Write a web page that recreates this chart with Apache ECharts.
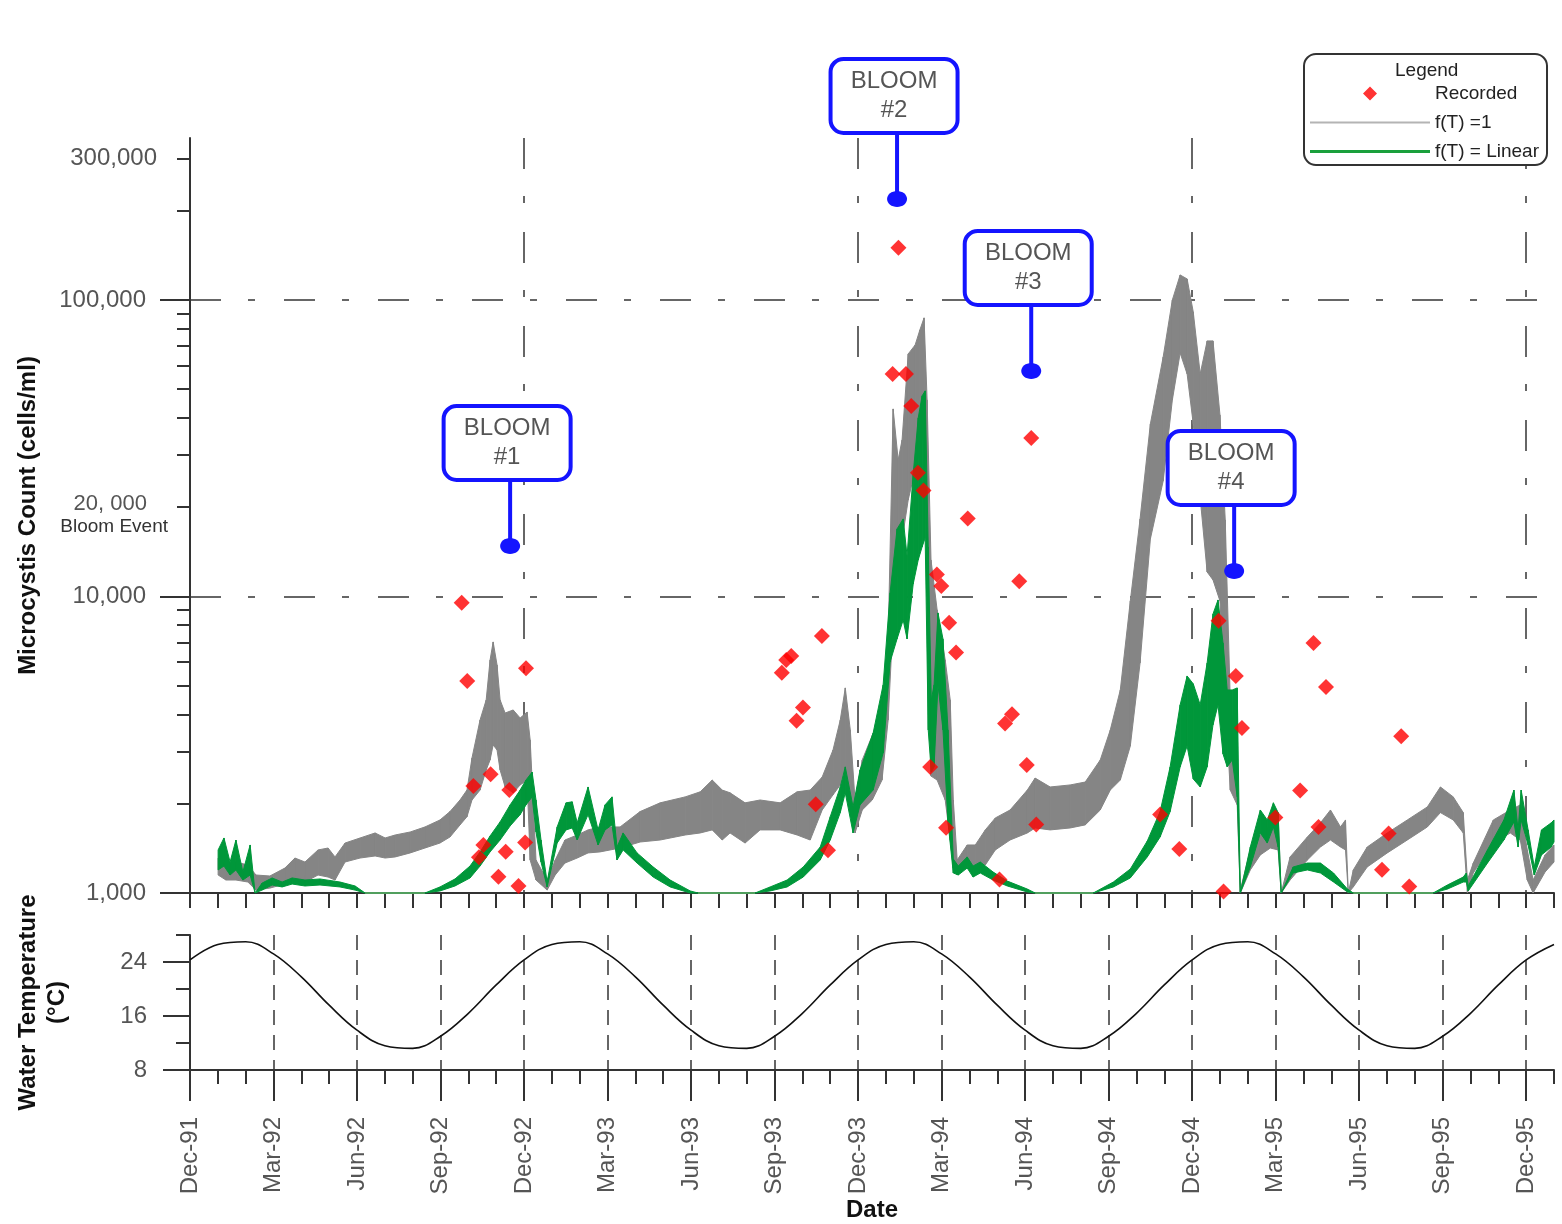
<!DOCTYPE html>
<html>
<head>
<meta charset="utf-8">
<title>Microcystis count and water temperature, Dec 1991 - Jan 1996</title>
<script src="https://cdn.jsdelivr.net/npm/echarts@6/dist/echarts.min.js"></script>
<style>
  html, body { margin: 0; padding: 0; background: #fff; }
  #chart { width: 1562px; height: 1224px; }
</style>
</head>
<body>
<div id="chart"></div>
<script>
// x values are months counted from 1 December 1991
const quarterLabels = ['Dec-91','Mar-92','Jun-92','Sep-92','Dec-92','Mar-93','Jun-93','Sep-93','Dec-93',
  'Mar-94','Jun-94','Sep-94','Dec-94','Mar-95','Jun-95','Sep-95','Dec-95'];

// count axis labels (cells/ml)
const countTicks = [1000, 10000, 100000];
const countTickLabels = ['1,000', '10,000', '100,000'];
const bloomThreshold = 20000;
const bloomThresholdLabel = '20, 000';
const bloomEventText = 'Bloom Event';
const topTick = 300000;
const topTickLabel = '300,000';

// temperature axis labels
const tempTicks = [8, 16, 24];

// recorded Microcystis counts
const recordedMonth = [9.76, 9.96, 10.18, 10.38, 10.54, 10.80, 11.08, 11.34, 11.47, 11.80, 12.04, 12.07,
  21.26, 21.42, 21.60, 21.79, 22.02, 22.48, 22.70, 22.92,
  25.24, 25.45, 25.72, 25.91, 26.15, 26.35, 26.59, 26.83, 26.99, 27.16, 27.27, 27.52, 27.94,
  29.08, 29.28, 29.53, 29.79, 30.06, 30.22, 30.40,
  34.85, 35.54, 36.95, 37.13, 37.57, 37.79, 38.99, 39.88, 40.36, 40.54, 40.81, 42.82, 43.06, 43.51, 43.80];
const recordedCount = [9530, 5190, 2296, 1319, 1452, 2513, 1135, 1378, 2223, 1056, 1479, 5730,
  5530, 6110, 6300, 3810, 4225, 1993, 7360, 1393,
  56240, 150000, 56240, 43900, 26150, 22780, 2661, 11860, 10850, 1660, 8160, 6470, 18320,
  1110, 3727, 4004, 11250, 2702, 34240, 1702,
  1841, 1407, 8280, 1012, 5395, 3602, 1797, 2216, 6970, 1670, 4955, 1199, 1587, 3375, 1052];

// simulated count, f(T) = 1 : low / high envelope of the daily trace
const fT1Month = [
  1.01, 1.29, 1.65, 2.08, 2.37, 2.87, 3.41, 3.77, 4.13, 4.60,
  4.96, 5.21, 5.57, 6.11, 6.65, 7.01, 7.37, 7.91, 8.44, 8.98,
  9.34, 9.70, 9.95, 10.13, 10.42, 10.64, 10.78, 10.89, 11.03, 11.14,
  11.32, 11.61, 11.86, 12.11, 12.22, 12.43, 12.83, 13.12, 13.47, 13.91,
  14.30, 14.73, 15.45, 16.17, 16.89, 17.79, 18.33, 18.76, 19.12, 19.40,
  19.94, 20.48, 21.20, 21.81, 22.28, 22.71, 23.10, 23.36, 23.54, 23.72,
  23.89, 24.15, 24.51, 24.86, 25.08, 25.26, 25.44, 25.58, 25.80, 26.05,
  26.22, 26.37, 26.48, 26.62, 26.84, 27.13, 27.31, 27.42, 27.56, 27.92,
  28.21, 28.57, 28.93, 29.46, 30.08, 30.36, 30.90, 31.62, 32.16, 32.70,
  33.06, 33.42, 33.78, 34.13, 34.50, 34.96, 35.29, 35.57, 35.82, 36.04,
  36.29, 36.54, 36.75, 37.00, 37.19, 37.37, 37.62, 37.73, 38.09, 38.45,
  38.81, 39.09, 39.20, 39.52, 40.14, 40.61, 40.97, 41.33, 41.51, 41.61,
  41.79, 42.29, 43.01, 43.73, 44.45, 44.92, 45.38, 45.74, 45.89, 46.10,
  46.82, 47.43, 47.79, 48.04, 48.25, 48.68, 49.00];
const fT1High = [
  1312, 1243, 1272, 1243, 1150, 1141, 1214, 1312, 1272, 1397,
  1418, 1323, 1474, 1533, 1594, 1533, 1569, 1606, 1670, 1763,
  1882, 2059, 2224, 2854, 3832, 4477, 6107, 7024, 5875, 4477,
  4045, 4142, 3892, 4076, 3281, 1292, 1106, 1292, 1509, 1569,
  1632, 1670, 1670, 1882, 2014, 2109, 2194, 2404, 2224, 2177,
  2014, 2059, 2014, 2194, 2224, 2460, 3036, 3832, 4915, 3546,
  2059, 2810, 3400, 3990, 7133, 42890, 28860, 33710, 65740, 70470,
  79220, 86980, 45990, 13276, 9006, 6107, 4477, 2059, 1292, 1452,
  1452, 1632, 1791, 1905, 2224, 2441, 2278, 2314, 2367, 2810,
  3546, 4838, 9656, 18256, 38180, 64230, 100000, 121400, 117700, 91100,
  56290, 72730, 72730, 40940, 18113, 4477, 2810, 1023, 1397, 1569,
  1697, 1838, 1000, 1323, 1545, 1724, 1905, 1670, 1763, 1000,
  1196, 1429, 1594, 1763, 1951, 2278, 2109, 1867, 1106, 1262,
  1763, 1905, 1982, 1397, 1106, 1344, 1452];
const fT1Low = [
  1150, 1106, 1106, 1089, 1023, 1039, 1072, 1106, 1089, 1150,
  1132, 1106, 1272, 1312, 1333, 1312, 1323, 1365, 1418, 1474,
  1545, 1697, 1808, 2059, 2224, 2600, 2810, 3157, 3036, 2600,
  2278, 2177, 2314, 2404, 1292, 1106, 1023, 1150, 1262, 1312,
  1365, 1376, 1418, 1486, 1509, 1569, 1594, 1632, 1509, 1594,
  1474, 1632, 1632, 1569, 1509, 1905, 2143, 2314, 2662, 2059,
  1594, 1905, 2059, 2404, 3832, 8331, 13276, 15508, 21156, 26710,
  31190, 36440, 13276, 2479, 2404, 2059, 1509, 1214, 1150, 1243,
  1196, 1243, 1397, 1509, 1594, 1657, 1632, 1657, 1697, 1905,
  2224, 2404, 3132, 5967, 15630, 24524, 45990, 66240, 56290, 38180,
  21489, 12090, 11367, 9656, 4477, 2224, 1982, 1000, 1196, 1344,
  1418, 1397, 1000, 1106, 1292, 1429, 1509, 1429, 1397, 1000,
  1048, 1224, 1365, 1509, 1670, 1867, 1763, 1594, 1000, 1168,
  1474, 1594, 1509, 1106, 1000, 1177, 1272];

// simulated count, f(T) = Linear : low / high envelope of the daily trace
const fTLinMonth = [
  1.01, 1.22, 1.44, 1.65, 1.90, 2.16, 2.34, 2.59, 2.95, 3.31,
  3.67, 4.13, 4.67, 5.39, 5.93, 6.29, 8.44, 8.98, 9.52, 10.06,
  10.42, 10.78, 11.14, 11.50, 11.86, 12.07, 12.29, 12.43, 12.61, 12.83,
  13.19, 13.51, 13.73, 13.91, 14.30, 14.66, 14.91, 15.16, 15.34, 15.56,
  16.06, 16.64, 17.25, 17.97, 18.25, 20.30, 20.84, 21.45, 22.03, 22.64,
  23.00, 23.36, 23.54, 23.82, 24.07, 24.54, 24.90, 25.15, 25.40, 25.62,
  25.76, 25.98, 26.16, 26.30, 26.41, 26.52, 26.63, 26.73, 26.87, 27.05,
  27.23, 27.42, 27.60, 27.92, 28.13, 28.39, 28.85, 29.36, 30.08, 30.36,
  32.45, 33.17, 33.78, 34.39, 34.85, 35.21, 35.57, 35.82, 36.04, 36.29,
  36.54, 36.75, 36.93, 37.11, 37.26, 37.44, 37.62, 37.73, 38.09, 38.45,
  38.70, 38.92, 39.09, 39.20, 39.63, 40.14, 40.61, 41.08, 41.58, 41.79,
  44.66, 45.17, 45.74, 45.85, 45.92, 46.61, 47.20, 47.56, 47.71, 47.82,
  48.07, 48.29, 48.55, 48.90, 49.00];
const fTLinHigh = [
  1397, 1533, 1272, 1509, 1177, 1452, 1000, 1080, 1124, 1089,
  1124, 1106, 1115, 1089, 1056, 1000, 1000, 1048, 1115, 1233,
  1376, 1557, 1737, 1982, 2224, 2404, 2557, 2059, 1509, 1089,
  1670, 2014, 2030, 1724, 2278, 1632, 1982, 2109, 1429, 1594,
  1365, 1224, 1106, 1016, 1000, 1000, 1048, 1106, 1224, 1429,
  1808, 2278, 2662, 1951, 2600, 3461, 5033, 10275, 16893, 18256,
  13697, 25893, 39990, 47460, 49340, 14690, 4477, 5033, 8799, 7191,
  3546, 1302, 1233, 1323, 1233, 1272, 1177, 1097, 1031, 1000,
  1000, 1089, 1205, 1498, 1882, 2662, 4309, 5393, 5073, 4309,
  5967, 8730, 9731, 6969, 4838, 4838, 4915, 1000, 1429, 1905,
  1763, 2014, 1867, 1000, 1224, 1262, 1262, 1168, 1031, 1000,
  1000, 1064, 1132, 1168, 1056, 1397, 1763, 2224, 1632, 2224,
  1632, 1224, 1632, 1724, 1763];
const fTLinLow = [
  1196, 1233, 1150, 1196, 1106, 1150, 1000, 1023, 1064, 1048,
  1072, 1056, 1064, 1048, 1023, 1000, 1000, 1016, 1056, 1124,
  1233, 1376, 1509, 1683, 1838, 1982, 2109, 1606, 1272, 1048,
  1474, 1632, 1657, 1509, 1838, 1452, 1632, 1697, 1292, 1397,
  1262, 1132, 1048, 1000, 1000, 1000, 1016, 1048, 1132, 1292,
  1509, 1867, 2177, 1594, 1982, 2224, 2966, 6012, 7191, 8331,
  7191, 11020, 13276, 14690, 15755, 3546, 2557, 2662, 5033, 3546,
  1737, 1168, 1150, 1214, 1132, 1168, 1106, 1056, 1008, 1000,
  1000, 1048, 1124, 1323, 1545, 1882, 2662, 3132, 2424, 2278,
  2662, 3690, 4309, 2943, 2662, 2810, 2109, 1000, 1224, 1594,
  1474, 1670, 1429, 1000, 1168, 1196, 1168, 1089, 1008, 1000,
  1000, 1031, 1089, 1089, 1016, 1262, 1509, 1737, 1429, 1763,
  1452, 1150, 1344, 1429, 1486];

// monthly water temperature (deg C), month 0 = Dec-91
const tempValue = [
  24.3, 26.6, 27.0, 25.2, 21.8, 17.6, 13.9, 11.6, 11.2, 13.0, 16.4, 20.6,
  24.3, 26.6, 27.0, 25.2, 21.8, 17.6, 13.9, 11.6, 11.2, 13.0, 16.4, 20.6,
  24.3, 26.6, 27.0, 25.2, 21.8, 17.6, 13.9, 11.6, 11.2, 13.0, 16.4, 20.6,
  24.3, 26.6, 27.0, 25.2, 21.8, 17.6, 13.9, 11.6, 11.2, 13.0, 16.4, 20.6,
  24.3, 26.6];

// bloom call-outs
const bloomMonth = [11.50, 25.40, 30.22, 37.51];
const bloomCount = [14800, 219000, 57600, 12190];
const bloomNames = ['#1', '#2', '#3', '#4'];

// ---------------------------------------------------------------------------
const FONT = "'Liberation Sans', Arial, sans-serif";
const lg = Math.log10;
const AXIS = '#333';
const LABEL = '#555';
const GRAY = '#858585';
const GREEN = '#00973a';
const GREEN_THIN = '#5cc46e';
const BLUE = '#1414ff';

const monthTicks = tempValue.map((_, i) => i);              // 0 .. 49
const quarterTicks = quarterLabels.map((_, i) => i * 3);    // 0 .. 48
const decemberTicks = [12, 24, 36, 48];
const minorCountTicks = [2000, 3000, 4000, 5000, 6000, 7000, 8000, 9000,
  20000, 30000, 40000, 50000, 60000, 70000, 80000, 90000, 200000, 300000];

const near = (a, b) => Math.abs(a - b) < 1e-6;

function bandData(ms, lo, hi) {
  const out = [];
  for (let i = 0; i < ms.length - 1; i++) {
    out.push([ms[i], lg(lo[i]), lg(hi[i]), ms[i + 1], lg(lo[i + 1]), lg(hi[i + 1])]);
  }
  return out;
}

// one quad of the envelope per data item; flat stretches at the floor get a thin light stroke
function bandRenderer(fill, thinStroke) {
  return function (params, api) {
    const a = api.coord([api.value(0), api.value(1)]);
    const b = api.coord([api.value(0), api.value(2)]);
    const c = api.coord([api.value(3), api.value(5)]);
    const d = api.coord([api.value(3), api.value(4)]);
    const flat = near(api.value(1), api.value(2)) && near(api.value(4), api.value(5));
    return {
      type: 'polygon',
      shape: { points: [a, b, c, d] },
      style: { fill: fill, stroke: flat ? thinStroke : fill, lineWidth: flat ? 1.5 : 1 }
    };
  };
}

function renderBloom(params, api) {
  const p = api.coord([api.value(0), api.value(1)]);
  const w = 127, h = 74, stem = 66;
  const cx = p[0] - 3, bottom = p[1] - stem;
  return {
    type: 'group',
    children: [
      { type: 'line', shape: { x1: p[0], y1: p[1], x2: p[0], y2: bottom },
        style: { stroke: BLUE, lineWidth: 4 } },
      { type: 'rect', shape: { x: cx - w / 2, y: bottom - h, width: w, height: h, r: 13 },
        style: { fill: '#fff', stroke: BLUE, lineWidth: 4 } },
      { type: 'text',
        style: { text: 'BLOOM\n' + bloomNames[params.dataIndex], x: cx, y: bottom - h / 2,
          align: 'center', verticalAlign: 'middle', fontSize: 24, lineHeight: 29,
          fontFamily: FONT, fill: LABEL } },
      { type: 'ellipse', shape: { cx: p[0], cy: p[1], rx: 10, ry: 8 }, style: { fill: BLUE } }
    ]
  };
}

const tickStyle = { color: AXIS, width: 2 };
const axisLineStyle = { show: true, onZero: false, lineStyle: { color: AXIS, width: 2 } };
const nameStyle = { fontFamily: FONT, fontSize: 24, fontWeight: 'bold', color: '#111' };
const labelStyle = { fontFamily: FONT, fontSize: 24, color: LABEL };

const chart = echarts.init(document.getElementById('chart'), null, { renderer: 'canvas' });

chart.setOption({
  animation: false,
  backgroundColor: '#fff',
  title: {
    text: 'Legend', left: 1395, top: 61, padding: 0,
    textStyle: { fontFamily: FONT, fontSize: 19, fontWeight: 'normal', color: '#222' }
  },
  legend: {
    orient: 'vertical', left: 1304, top: 54,
    padding: [30, 8, 4, 6],
    itemWidth: 120, itemHeight: 14, itemGap: 10,
    symbolKeepAspect: true,
    borderColor: '#333', borderWidth: 2, borderRadius: 12, backgroundColor: '#fff',
    selectedMode: false,
    textStyle: { fontFamily: FONT, fontSize: 19, color: '#222' },
    data: [
      { name: 'Recorded', icon: 'path://M0,7L0.01,7ZM53,7L60,0L67,7L60,14ZM119.99,7L120,7Z',
        itemStyle: { color: '#ff0000' } },
      { name: 'f(T) =1', icon: 'path://M0,0L120,0L120,2L0,2Z', itemStyle: { color: '#b4b4b4' } },
      { name: 'f(T) = Linear', icon: 'path://M0,0L120,0L120,3L0,3Z', itemStyle: { color: '#1aa03c' } }
    ]
  },
  grid: [
    { left: 190, right: 8, top: 138, height: 755, outerBoundsMode: 'none' },
    { left: 190, right: 8, top: 935, height: 135, outerBoundsMode: 'none' }
  ],
  xAxis: [
    { // count panel: monthly ticks
      gridIndex: 0, type: 'value', min: 0, max: 49, position: 'bottom',
      axisLine: axisLineStyle,
      axisTick: { show: true, customValues: monthTicks, length: 15, lineStyle: tickStyle },
      axisLabel: { show: false }, splitLine: { show: false }
    },
    { // count panel: December grid lines
      gridIndex: 0, type: 'value', min: 0, max: 49, position: 'top',
      axisLine: { show: false }, axisLabel: { show: false },
      axisTick: { show: false, customValues: decemberTicks },
      splitLine: { show: true, lineStyle: { type: [31, 27, 7, 29], color: '#666', width: 2 } }
    },
    { // temperature panel: monthly ticks
      gridIndex: 1, type: 'value', min: 0, max: 49, position: 'bottom',
      axisLine: axisLineStyle,
      axisTick: { show: true, customValues: monthTicks, length: 14, lineStyle: tickStyle },
      axisLabel: { show: false }, splitLine: { show: false }
    },
    { // temperature panel: quarterly ticks, labels and grid lines
      gridIndex: 1, type: 'value', min: 0, max: 49, position: 'bottom',
      axisLine: { show: false, onZero: false },
      axisTick: { show: true, customValues: quarterTicks, length: 31, lineStyle: tickStyle },
      axisLabel: {
        customValues: quarterTicks, rotate: 90, margin: 47,
        formatter: v => quarterLabels[Math.round(v / 3)], ...labelStyle
      },
      splitLine: { show: true, lineStyle: { type: [15, 10], color: '#666', width: 2 } },
      name: 'Date', nameLocation: 'middle', nameGap: 128, nameMoveOverlap: false,
      nameTextStyle: nameStyle
    }
  ],
  yAxis: [
    { // Microcystis count, decades (log10 of cells/ml)
      gridIndex: 0, type: 'value', min: 3, max: 5.546, position: 'left',
      axisLine: axisLineStyle,
      axisTick: { show: true, customValues: countTicks.map(lg), length: 30, lineStyle: tickStyle },
      axisLabel: {
        customValues: countTicks.map(lg), margin: 44,
        formatter: v => countTickLabels[countTicks.findIndex(t => near(lg(t), v))], ...labelStyle
      },
      splitLine: { show: true, lineStyle: { type: [31, 27, 7, 29], color: '#666', width: 2 } },
      name: 'Microcystis Count (cells/ml)', nameLocation: 'middle', nameGap: 150,
      nameMoveOverlap: false, nameTextStyle: nameStyle
    },
    { // Microcystis count, intermediate ticks
      gridIndex: 0, type: 'value', min: 3, max: 5.546, position: 'left',
      axisLine: { show: false, onZero: false },
      axisTick: { show: true, customValues: minorCountTicks.map(lg), length: 13, lineStyle: tickStyle },
      axisLabel: {
        customValues: [lg(bloomThreshold), lg(topTick)], margin: 33,
        formatter: v => near(v, lg(bloomThreshold))
          ? '{a|' + bloomThresholdLabel + '}'
          : '{c|' + topTickLabel + '}',
        rich: {
          a: { fontFamily: FONT, fontSize: 22, color: LABEL, padding: [0, 10, 6, 0] },
          c: { fontFamily: FONT, fontSize: 24, color: LABEL }
        }
      },
      splitLine: { show: false }
    },
    { // water temperature
      gridIndex: 1, type: 'value', min: 8, max: 28, position: 'left',
      axisLine: axisLineStyle,
      axisTick: { show: true, customValues: tempTicks, length: 27, lineStyle: tickStyle },
      axisLabel: { customValues: tempTicks, margin: 43, ...labelStyle },
      splitLine: { show: false },
      name: 'Water Temperature\n(°C)', nameLocation: 'middle', nameGap: 118,
      nameMoveOverlap: false, nameTextStyle: { ...nameStyle, lineHeight: 29 }
    },
    { // water temperature, intermediate ticks
      gridIndex: 1, type: 'value', min: 8, max: 28, position: 'left',
      axisLine: { show: false, onZero: false },
      axisTick: { show: true, customValues: [12, 20, 28], length: 14, lineStyle: tickStyle },
      axisLabel: { show: false }, splitLine: { show: false }
    },
    { // caption under the bloom threshold tick
      gridIndex: 0, type: 'value', min: 3, max: 5.546, position: 'left',
      axisLine: { show: false, onZero: false },
      axisTick: { show: false, customValues: [lg(bloomThreshold)] },
      axisLabel: {
        customValues: [lg(bloomThreshold)], margin: 22, verticalAlign: 'top', lineHeight: 40,
        formatter: () => bloomEventText,
        fontFamily: FONT, fontSize: 19, color: '#333'
      },
      splitLine: { show: false }
    }
  ],
  series: [
    {
      name: 'f(T) =1', type: 'custom', xAxisIndex: 0, yAxisIndex: 0, z: 2,
      itemStyle: { color: GRAY },
      data: bandData(fT1Month, fT1Low, fT1High),
      encode: { x: [0, 3], y: [1, 2, 4, 5] },
      renderItem: bandRenderer(GRAY, GRAY)
    },
    {
      name: 'f(T) = Linear', type: 'custom', xAxisIndex: 0, yAxisIndex: 0, z: 3,
      itemStyle: { color: GREEN },
      data: bandData(fTLinMonth, fTLinLow, fTLinHigh),
      encode: { x: [0, 3], y: [1, 2, 4, 5] },
      renderItem: bandRenderer(GREEN, GREEN_THIN)
    },
    {
      name: 'Recorded', type: 'scatter', xAxisIndex: 0, yAxisIndex: 0, z: 5,
      symbol: 'diamond', symbolSize: 16,
      itemStyle: { color: '#ff0000' },
      data: recordedMonth.map((m, i) => [m, lg(recordedCount[i])])
    },
    {
      name: 'bloom', type: 'custom', xAxisIndex: 0, yAxisIndex: 0, z: 10, clip: false,
      data: bloomMonth.map((m, i) => [m, lg(bloomCount[i])]),
      encode: { x: 0, y: 1 },
      renderItem: renderBloom
    },
    {
      name: 'Water temperature', type: 'line', xAxisIndex: 3, yAxisIndex: 2, z: 4,
      smooth: 0.4, symbol: 'none',
      lineStyle: { color: '#111', width: 1.6 },
      data: tempValue.map((t, i) => [monthTicks[i], t])
    }
  ]
});
</script>
</body>
</html>
